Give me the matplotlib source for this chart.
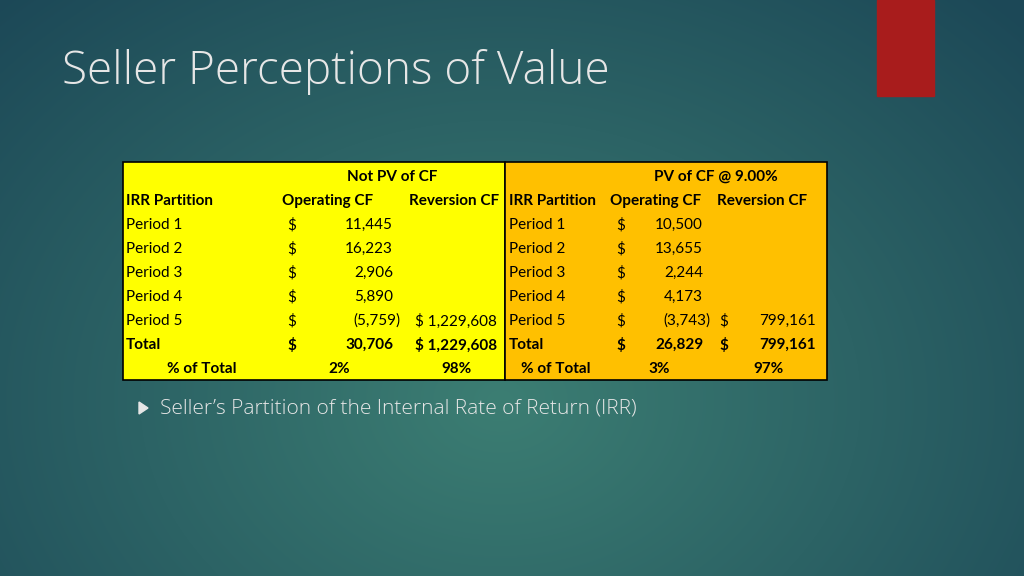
import numpy as np
import matplotlib
matplotlib.use("Agg")
import matplotlib.pyplot as plt
from matplotlib.patches import Rectangle, Polygon

periods = ["Period 1", "Period 2", "Period 3", "Period 4", "Period 5"]
op_cf = ["11,445", "16,223", "2,906", "5,890", "(5,759)"]
rev_cf = ["", "", "", "", "$ 1,229,608"]
pv_op = ["10,500", "13,655", "2,244", "4,173", "(3,743)"]
pv_rev = ["", "", "", "", "799,161"]
tot_op, tot_rev, pv_tot_op, pv_tot_rev = "30,706", "$ 1,229,608", "26,829", "799,161"
pct_left = ["2%", "98%"]
pct_right = ["3%", "97%"]

fig = plt.figure(figsize=(10.24, 5.76), dpi=100)
ax = fig.add_axes([0, 0, 1, 1])
ax.set_xlim(0, 1024); ax.set_ylim(576, 0); ax.axis("off")

yy, xx = np.mgrid[0:576, 0:1024]
d = np.sqrt(((xx - 500) / 720) ** 2 + ((yy - 400) / 560) ** 2)
d = np.clip(d, 0, 1)
c0 = np.array([0x3c, 0x7e, 0x73]) / 255
c1 = np.array([0x1c, 0x48, 0x57]) / 255
img = c0 + (c1 - c0) * d[..., None]
ax.imshow(img, extent=[0, 1024, 576, 0], aspect="auto", zorder=0)

ax.add_patch(Rectangle((877, 0), 57, 96, color="#a81c1c", zorder=1))
ax.text(62, 72, "Seller Perceptions of Value", fontsize=33, color="#e6e6e6",
        family="Open Sans", fontweight="light", va="center", ha="left")

ax.add_patch(Rectangle((123, 162), 382, 218, facecolor="#ffff00", edgecolor="black", lw=1.2, zorder=1))
ax.add_patch(Rectangle((505, 162), 322, 218, facecolor="#ffc000", edgecolor="black", lw=1.2, zorder=1))

f = dict(fontsize=11, family="Lato", color="black", va="center")
b = dict(f, fontweight="bold")
rows = [177 + 24 * i for i in range(9)]
ax.text(392, rows[0], "Not PV of CF", ha="center", **b)
ax.text(716, rows[0], "PV of CF @ 9.00%", ha="center", **b)
ax.text(126, rows[1], "IRR Partition", ha="left", **b)
ax.text(282, rows[1], "Operating CF", ha="left", **b)
ax.text(499, rows[1], "Reversion CF", ha="right", **b)
ax.text(509, rows[1], "IRR Partition", ha="left", **b)
ax.text(656, rows[1], "Operating CF", ha="center", **b)
ax.text(762, rows[1], "Reversion CF", ha="center", **b)

for i, p in enumerate(periods):
    y = rows[2 + i]
    ax.text(126, y, p, ha="left", **f)
    ax.text(287, y, "$", ha="left", **f)
    paren = op_cf[i].startswith("(")
    ax.text(401 if paren else 393, y, op_cf[i], ha="right", **f)
    if rev_cf[i]:
        ax.text(497, y, rev_cf[i], ha="right", **f)
    ax.text(509, y, p, ha="left", **f)
    ax.text(616, y, "$", ha="left", **f)
    paren = pv_op[i].startswith("(")
    ax.text(711 if paren else 703, y, pv_op[i], ha="right", **f)
    if pv_rev[i]:
        ax.text(719, y, "$", ha="left", **f)
        ax.text(816, y, pv_rev[i], ha="right", **f)

y = rows[7]
ax.text(126, y, "Total", ha="left", **b)
ax.text(287, y, "$", ha="left", **b)
ax.text(393, y, tot_op, ha="right", **b)
ax.text(497, y, tot_rev, ha="right", **b)
ax.text(509, y, "Total", ha="left", **b)
ax.text(616, y, "$", ha="left", **b)
ax.text(703, y, pv_tot_op, ha="right", **b)
ax.text(719, y, "$", ha="left", **b)
ax.text(816, y, pv_tot_rev, ha="right", **b)

y = rows[8]
ax.text(202, y, "% of Total", ha="center", **b)
ax.text(339, y, pct_left[0], ha="center", **b)
ax.text(456, y, pct_left[1], ha="center", **b)
ax.text(556, y, "% of Total", ha="center", **b)
ax.text(659, y, pct_right[0], ha="center", **b)
ax.text(769, y, pct_right[1], ha="center", **b)

ax.add_patch(Polygon([(139, 402), (139, 414), (148, 408)], closed=True, color="#e6e6e6"))
ax.text(160, 409, "Seller\u2019s Partition of the Internal Rate of Return (IRR)", fontsize=15,
        family="Open Sans", fontweight="light", color="#e6e6e6", va="center", ha="left")

fig.savefig("out.png", dpi=100)
